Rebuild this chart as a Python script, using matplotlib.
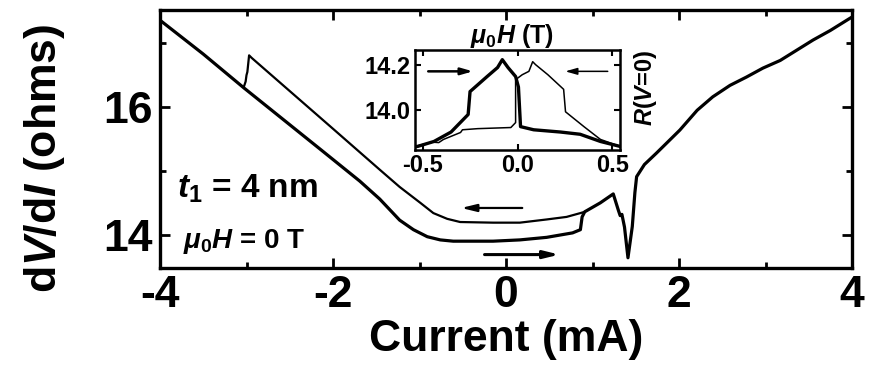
import numpy as np
import matplotlib
matplotlib.use('Agg')
import matplotlib.pyplot as plt

plt.rcParams['font.family'] = ['Liberation Sans', 'DejaVu Sans']
plt.rcParams['font.weight'] = 'bold'
plt.rcParams['axes.unicode_minus'] = False
plt.rcParams['mathtext.fontset'] = 'custom'
plt.rcParams['mathtext.rm'] = 'Liberation Sans:bold'
plt.rcParams['mathtext.bf'] = 'Liberation Sans:bold'
plt.rcParams['mathtext.it'] = 'Liberation Sans:bold:italic'

# main sweep, lower branch (current going up) plus common high-current part
lower_I = [-4.0, -3.5, -3.03, -2.12, -1.69, -1.46, -1.23, -1.07, -0.91, -0.76, -0.61, -0.15,
           0.16, 0.47, 0.77, 0.86, 0.88, 0.91, 1.09, 1.24, 1.30, 1.32, 1.34, 1.37, 1.41,
           1.46, 1.49, 1.51, 1.60, 1.74, 2.01, 2.21, 2.39, 2.59, 2.78, 2.97, 3.17, 3.36,
           3.55, 3.75, 3.94, 4.0]
lower_R = [17.36, 16.83, 16.30, 15.31, 14.84, 14.56, 14.23, 14.08, 13.97, 13.92, 13.90, 13.90,
           13.92, 13.96, 14.03, 14.08, 14.28, 14.36, 14.50, 14.64, 14.38, 14.30, 14.32, 14.12, 13.64,
           14.13, 14.66, 14.91, 15.10, 15.28, 15.64, 15.95, 16.16, 16.34, 16.47, 16.61, 16.73, 16.89,
           17.05, 17.20, 17.36, 17.41]

# upper branch (current going down)
upper_I = [0.91, 0.86, 0.70, 0.47, 0.16, -0.15, -0.53, -0.68, -0.84, -0.99, -1.23, -1.46,
           -2.0, -2.94, -2.97, -2.99, -3.0, -3.01, -3.03]
upper_R = [14.36, 14.34, 14.28, 14.24, 14.19, 14.19, 14.20, 14.25, 14.34, 14.50, 14.75, 15.02,
           15.66, 16.77, 16.81, 16.55, 16.50, 16.40, 16.32]

# inset: R(V=0) vs field
thick_H = [-0.54, -0.526, -0.44, -0.35, -0.26, -0.25, -0.16, -0.105, -0.08, -0.05, -0.01, 0.005,
           0.016, 0.085, 0.226, 0.33, 0.437, 0.54]
thick_R = [13.835, 13.836, 13.858, 13.90, 13.978, 14.08, 14.147, 14.187, 14.222, 14.187, 14.147, 14.10,
           13.924, 13.91, 13.90, 13.89, 13.858, 13.836]
thin_H = [0.54, 0.437, 0.35, 0.253, 0.243, 0.16, 0.095, 0.08, 0.06, 0.025, -0.01, -0.01,
          -0.035, -0.21, -0.29, -0.30, -0.39, -0.415, -0.45, -0.54]
thin_R = [13.836, 13.867, 13.924, 13.99, 14.09, 14.155, 14.20, 14.213, 14.17, 14.155, 14.133, 13.942,
          13.92, 13.915, 13.91, 13.898, 13.867, 13.853, 13.855, 13.836]

fig = plt.figure(figsize=(8.72, 3.79), dpi=100)
ax = fig.add_axes([160 / 872, 1 - 268 / 379, 692 / 872, 258 / 379])

ax.plot(lower_I, lower_R, color='black', lw=2.3, solid_joinstyle='round')
ax.plot(upper_I, upper_R, color='black', lw=1.6, solid_joinstyle='round')

ax.annotate('', xy=(-0.55, 14.42), xytext=(0.22, 14.42),
            arrowprops=dict(arrowstyle='-|>,head_length=0.9,head_width=0.22', color='black', lw=1.6))
ax.annotate('', xy=(0.65, 13.69), xytext=(-0.28, 13.69),
            arrowprops=dict(arrowstyle='-|>,head_length=0.9,head_width=0.22', color='black', lw=2.2))

ax.set_xlim(-4, 4)
ax.set_ylim(13.48, 17.52)
ax.set_xticks([-4, -2, 0, 2, 4])
ax.set_xticks([-3, -1, 1, 3], minor=True)
ax.set_yticks([14, 16])
ax.set_yticks([15, 17], minor=True)
ax.tick_params(which='both', direction='in', top=True, right=True, width=2, labelsize=32, pad=5)
ax.tick_params(which='major', length=7)
ax.tick_params(which='minor', length=4)
for s in ax.spines.values():
    s.set_linewidth(2.4)
ax.set_xlabel('Current (mA)', fontsize=32, fontweight='bold', labelpad=2)
ax.set_ylabel(r'd$\mathit{V}$/d$\mathit{I}$ (ohms)', fontsize=32, fontweight='bold')
ax.yaxis.set_label_coords(-0.135, 0.426)

ax.text(-3.80, 14.59, r'$t_{1}$ = 4 nm', fontsize=24, fontweight='bold', ha='left', va='baseline')
ax.text(-3.73, 13.80, r'$\mu_{0}H$ = 0 T', fontsize=20, fontweight='bold', ha='left', va='baseline')

# inset
ins = fig.add_axes([415 / 872, 1 - 150 / 379, 205 / 872, 100 / 379])
ins.plot(thick_H, thick_R, color='black', lw=2.4, solid_joinstyle='round')
ins.plot(thin_H, thin_R, color='black', lw=1.1, solid_joinstyle='round')
ins.annotate('', xy=(-0.22, 14.17), xytext=(-0.485, 14.17),
             arrowprops=dict(arrowstyle='-|>,head_length=0.7,head_width=0.2', color='black', lw=1.8))
ins.annotate('', xy=(0.237, 14.17), xytext=(0.49, 14.17),
             arrowprops=dict(arrowstyle='-|>,head_length=0.7,head_width=0.2', color='black', lw=1.1))
ins.set_xlim(-0.54, 0.54)
ins.set_ylim(13.82, 14.265)
ins.set_xticks([-0.5, 0.0, 0.5])
ins.set_xticklabels(['-0.5', '0.0', '0.5'])
ins.set_yticks([14.0, 14.2])
ins.set_yticklabels(['14.0', '14.2'])
ins.tick_params(direction='in', top=True, right=True, length=4, width=1.5, labelsize=17, pad=3)
for s in ins.spines.values():
    s.set_linewidth(1.8)

fig.text(512 / 872, 1 - 43 / 379, r'$\mu_{0}H$ (T)', fontsize=18, fontweight='bold',
         ha='center', va='baseline')
fig.text(645 / 872, 1 - 88 / 379, r'$R$($V$=0)', fontsize=17, fontweight='bold',
         ha='center', va='center', rotation=90)

fig.savefig('out.png', dpi=100)
